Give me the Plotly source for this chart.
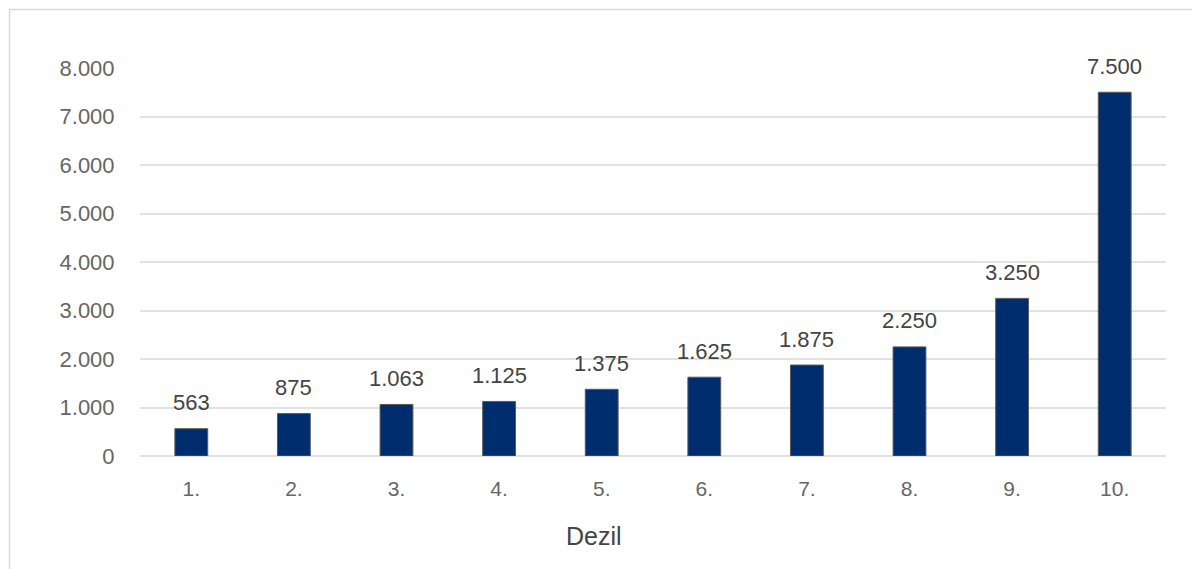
import plotly.graph_objects as go

# Dezile und Werte je Dezil
dezile = ["1.", "2.", "3.", "4.", "5.", "6.", "7.", "8.", "9.", "10."]
werte = [563, 875, 1063, 1125, 1375, 1625, 1875, 2250, 3250, 7500]
y_ticks = [0, 1000, 2000, 3000, 4000, 5000, 6000, 7000, 8000]


def de_format(v):
    return f"{v:,}".replace(",", ".")


FONT = "Liberation Sans, Arial, sans-serif"

fig = go.Figure()
fig.add_trace(go.Bar(
    x=dezile,
    y=werte,
    marker=dict(color="#002D6E", line=dict(color="#5a5a5a", width=1)),
    hoverinfo="skip",
))

# Wertebeschriftungen über den Balken (Kategorie-Index als x-Position)
for i, v in enumerate(werte):
    fig.add_annotation(
        x=i, y=v, text=de_format(v), showarrow=False,
        yanchor="middle", yshift=26,
        font=dict(family=FONT, size=22, color="#444444"),
    )

# Achsentitel
fig.add_annotation(
    x=(594 - 140) / 1026, y=-(536 - 456) / 388, xref="paper", yref="paper",
    text="Dezil", showarrow=False, yanchor="middle",
    font=dict(family=FONT, size=25, color="#444444"),
)

# Rahmen
fig.add_shape(
    type="rect", xref="paper", yref="paper",
    x0=-130.5 / 1026, x1=1.2, y0=-0.5, y1=1 + 58.5 / 388,
    line=dict(color="#d9d9d9", width=1.5), fillcolor="rgba(0,0,0,0)", layer="below",
)

fig.update_layout(
    width=1192, height=569,
    margin=dict(l=140, r=26, t=68, b=113),
    paper_bgcolor="white", plot_bgcolor="white",
    bargap=0.68,
    showlegend=False,
    font=dict(family=FONT, color="#666666"),
)
fig.update_xaxes(
    type="category", range=[-0.5, 9.5],
    showgrid=False, zeroline=False, showline=False,
    ticks="outside", ticklen=14, tickcolor="rgba(0,0,0,0)",
    tickfont=dict(family=FONT, size=21, color="#666666"),
)
fig.update_yaxes(
    range=[0, 8000], tickvals=y_ticks,
    ticktext=[de_format(t) for t in y_ticks],
    showgrid=True, gridcolor="#e2e2e2", gridwidth=1.5,
    zeroline=True, zerolinecolor="#e2e2e2", zerolinewidth=1.5,
    showline=False,
    ticks="outside", ticklen=20, tickcolor="rgba(0,0,0,0)",
    tickfont=dict(family=FONT, size=22, color="#666666"),
)

fig.write_html("out.html")
